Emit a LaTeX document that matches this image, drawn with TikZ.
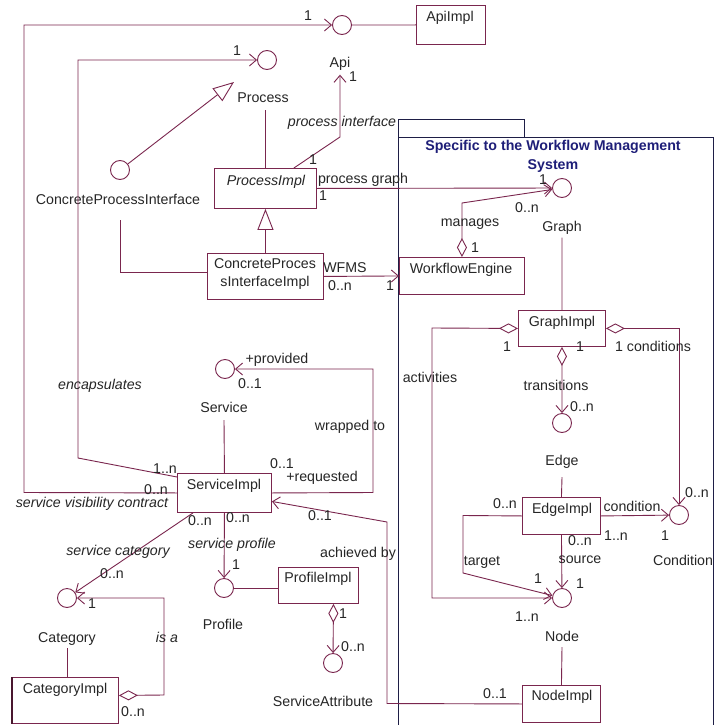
\documentclass[tikz,border=0pt]{standalone}
\usepackage{fontspec}
\setmainfont{Liberation Sans}
\usetikzlibrary{arrows.meta}
\definecolor{lnc}{RGB}{122,38,78}
\definecolor{pkc}{RGB}{30,30,70}
\definecolor{ttl}{RGB}{30,30,120}
\begin{document}
\begin{tikzpicture}[x=1pt,y=-1pt,
  every node/.style={font=\fontsize{14.2}{16}\selectfont},
  ln/.style={draw=lnc, line width=0.9pt},
  pk/.style={draw=pkc, line width=1pt},
  box/.style={draw=lnc, line width=0.9pt, fill=white, inner sep=0pt, anchor=north west},
  iface/.style={circle, draw=lnc, line width=0.9pt, minimum size=19pt, inner sep=0pt, fill=white},
  lbl/.style={inner sep=0pt, text height=10pt, text depth=3pt, text=black!85},
  it/.style={lbl, font=\fontsize{14.2}{16}\selectfont\itshape},
  ttlstyle/.style={inner sep=0pt, text=ttl, font=\fontsize{14.2}{16}\selectfont\bfseries},
  arr/.style={-{Straight Barb[length=7pt,width=12pt]}},
  agg/.style={{Diamond[open,length=19pt,width=10pt]}-{Straight Barb[length=7pt,width=12pt]}},
  gen/.style={-{Triangle[open,length=21pt,width=16pt]}}]
\useasboundingbox (0,0) rectangle (722,725);
\fill[white] (0,0) rectangle (722,725);

% package
\draw[pk] (398,137) rectangle (524,119);
\draw[pk] (398,725) -- (398,137) -- (713,137) -- (713,725);
\node[ttlstyle] (ttl1) at (553,147) {Specific to the Workflow Management};
\node[ttlstyle] (ttl2) at (553,166) {System};

% boxes
\node[box, minimum width=69pt, minimum height=39pt] (apiimpl) at (416,5) {};
\node[box, minimum width=102pt, minimum height=40pt] (procimpl) at (214,168) {};
\node[box, minimum width=116pt, minimum height=46pt] (cpii) at (207,253) {};
\node[box, minimum width=125pt, minimum height=37pt] (wfe) at (399,257) {};
\node[box, minimum width=87pt, minimum height=36pt] (graphimpl) at (518,310) {};
\node[box, minimum width=78pt, minimum height=37pt] (edgeimpl) at (522,497) {};
\node[box, minimum width=78pt, minimum height=37pt] (nodeimpl) at (522,685) {};
\node[box, minimum width=94pt, minimum height=39pt] (svcimpl) at (177,473) {};
\node[box, minimum width=80pt, minimum height=36pt] (profimpl) at (278,567) {};
\node[box, minimum width=106pt, minimum height=46pt] (catimpl) at (12,677) {};
\draw[draw=lnc!60!black, line width=2pt] (catimpl.north west) -- (catimpl.south west);

\node[lbl] (t_apiimpl) at (450,18) {ApiImpl};
\node[it] (t_procimpl) at (266,182) {ProcessImpl};
\node[lbl] (t_cpii1) at (265,265) {ConcreteProces};
\node[lbl] (t_cpii2) at (265,283) {sInterfaceImpl};
\node[lbl] (t_wfe) at (461,270) {WorkflowEngine};
\node[lbl] (t_graphimpl) at (562,323) {GraphImpl};
\node[lbl] (t_edgeimpl) at (562,510) {EdgeImpl};
\node[lbl] (t_nodeimpl) at (562,697) {NodeImpl};
\node[lbl] (t_svcimpl) at (224,486) {ServiceImpl};
\node[lbl] (t_profimpl) at (318,579) {ProfileImpl};
\node[lbl] (t_catimpl) at (65,690) {CategoryImpl};

% interfaces
\node[iface] (c_api) at (342,25) {};
\node[iface] (c_proc) at (267,60) {};
\node[iface] (c_cpi) at (120,170) {};
\node[iface] (c_graph) at (562,188) {};
\node[iface] (c_service) at (225,369) {};
\node[iface] (c_edge) at (562,423) {};
\node[iface] (c_cond) at (679,515) {};
\node[iface] (c_node) at (562,598) {};
\node[iface] (c_cat) at (67,598) {};
\node[iface] (c_prof) at (224,588) {};
\node[iface] (c_attr) at (333,663) {};

\node[lbl] (t_api) at (340,64) {Api};
\node[lbl] (t_process) at (263,99) {Process};
\node[lbl] (t_cpi) at (118,201) {ConcreteProcessInterface};
\node[lbl] (t_graph) at (562,228) {Graph};
\node[lbl] (t_service) at (224,409) {Service};
\node[lbl] (t_edge) at (562,462) {Edge};
\node[lbl] (t_cond) at (683,562) {Condition};
\node[lbl] (t_node) at (562,638) {Node};
\node[lbl] (t_cat) at (67,639) {Category};
\node[lbl] (t_prof) at (223,626) {Profile};
\node[lbl] (t_attr) at (323,703) {ServiceAttribute};

% connectors
\draw[ln,arr] (svcimpl.west) -- (24,492.5) |- (c_api);
\draw[ln,arr] ([yshift=-4pt]svcimpl.north west) -- (78,458) |- (c_proc);
\draw[ln,arr] ([xshift=-23pt]procimpl.north east) -- (340,137) -- ([yshift=-4pt]t_api.south);
\coordinate (gtip) at (234,82);
\draw[ln,gen] (c_cpi) -- (gtip);
\draw[ln] ([yshift=-4.5pt]t_process.south -| procimpl.north) -- (procimpl.north);
\draw[ln,gen] (cpii.north) -- (procimpl.south);
\draw[ln] ([xshift=2pt,yshift=-12.5pt]t_cpi.south) |- ([yshift=4pt]cpii.west);
\draw[ln,arr] (procimpl.east) -- (c_graph);
\draw[ln,arr] (cpii.east) -- (wfe.west);
\draw[ln,agg] (wfe.north) -- ++(0,-54) -- (c_graph);
\draw[ln] ([yshift=-3pt]t_graph.south) -- (graphimpl.north);
\draw[ln,agg] (graphimpl.west) -- (432,328) |- (c_node);
\draw[ln,agg] (graphimpl.east) -| (c_cond);
\draw[ln,agg] (graphimpl.south) -- (c_edge);
\draw[ln] ([yshift=-8.5pt]t_edge.south) -- (edgeimpl.north);
\draw[ln,arr] (edgeimpl.east) -- (c_cond);
\draw[ln,arr] (edgeimpl.west) -- (463,515.5) -- (463,573) -- (c_node);
\draw[ln,arr] (edgeimpl.south) -- (c_node);
\draw[ln] ([yshift=-2.5pt]t_node.south) -- (nodeimpl.north);
\draw[ln,arr] (nodeimpl.west) -- (387,703.5) -- (387,522) -- ([yshift=-8.5pt]svcimpl.east);
\draw[ln,arr] (svcimpl.east) -- (373,492.5) |- (c_service);
\draw[ln] ([yshift=-4.5pt]t_service.south) -- (svcimpl.north);
\draw[ln,arr] ([xshift=16pt]svcimpl.south west) -- (c_cat);
\draw[ln,agg] ([yshift=5pt]catimpl.east) -- (164,695) |- (c_cat);
\draw[ln] ([yshift=-2.5pt]t_cat.south) -- (t_cat.south |- catimpl.north);
\draw[ln,arr] (svcimpl.south) -- (c_prof);
\draw[ln] (c_prof) -- (profimpl.west |- c_prof);
\draw[ln,agg] ([xshift=15pt]profimpl.south) -- (c_attr);
\draw[ln] (c_api) -- (apiimpl.west);

% multiplicities and roles
\node[lbl] (m1) at (308,17) {1};
\node[lbl] (m2) at (156,491) {0..n};
\node[it] (m3) at (92,504) {service visibility contract};
\node[lbl] (m4) at (237,52) {1};
\node[lbl] (m5) at (165,470) {1..n};
\node[it] (m6) at (100,386) {encapsulates};
\node[lbl] (m7) at (353,78) {1};
\node[lbl] (m8) at (313,161) {1};
\node[it] (m9) at (342,123) {process interface};
\node[lbl] (m10) at (363,180) {process graph};
\node[lbl] (m11) at (323,197) {1};
\node[lbl] (m12) at (543,181) {1};
\node[lbl] (m13) at (527,209) {0..n};
\node[lbl] (m14) at (345,269) {WFMS};
\node[lbl] (m15) at (340,287) {0..n};
\node[lbl] (m16) at (390,287) {1};
\node[lbl] (m17) at (470,223) {manages};
\node[lbl] (m18) at (475,249) {1};
\node[lbl] (m19) at (507,348) {1};
\node[lbl] (m20) at (430,379) {activities};
\node[lbl] (m21) at (653,348) {1 conditions};
\node[lbl] (m22) at (697,494) {0..n};
\node[lbl] (m23) at (580,348) {1};
\node[lbl] (m24) at (556,387) {transitions};
\node[lbl] (m25) at (582,408) {0..n};
\node[lbl] (m26) at (632,508) {condition};
\node[lbl] (m27) at (616,537) {1..n};
\node[lbl] (m28) at (665,537) {1};
\node[lbl] (m29) at (505,505) {0..n};
\node[lbl] (m30) at (482,562) {target};
\node[lbl] (m31) at (538,580) {1};
\node[lbl] (m32) at (580,542) {0..n};
\node[lbl] (m33) at (580,560) {source};
\node[lbl] (m34) at (580,585) {1};
\node[lbl] (m35) at (527,618) {1..n};
\node[lbl] (m36) at (495,695) {0..1};
\node[lbl] (m37) at (358,554) {achieved by};
\node[lbl] (m38) at (320,517) {0..1};
\node[lbl] (m39) at (277,360) {+provided};
\node[lbl] (m40) at (250,385) {0..1};
\node[lbl] (m41) at (350,427) {wrapped to};
\node[lbl] (m42) at (282,465) {0..1};
\node[lbl] (m43) at (322,478) {+requested};
\node[lbl] (m44) at (200,522) {0..n};
\node[it] (m45) at (118,552) {service category};
\node[lbl] (m46) at (112,575) {0..n};
\node[lbl] (m47) at (92,605) {1};
\node[it] (m48) at (167,639) {is a};
\node[lbl] (m49) at (133,713) {0..n};
\node[lbl] (m50) at (238,519) {0..n};
\node[it] (m51) at (232,545) {service profile};
\node[lbl] (m52) at (236,566) {1};
\node[lbl] (m53) at (343,615) {1};
\node[lbl] (m54) at (353,648) {0..n};
\end{tikzpicture}
\end{document}
